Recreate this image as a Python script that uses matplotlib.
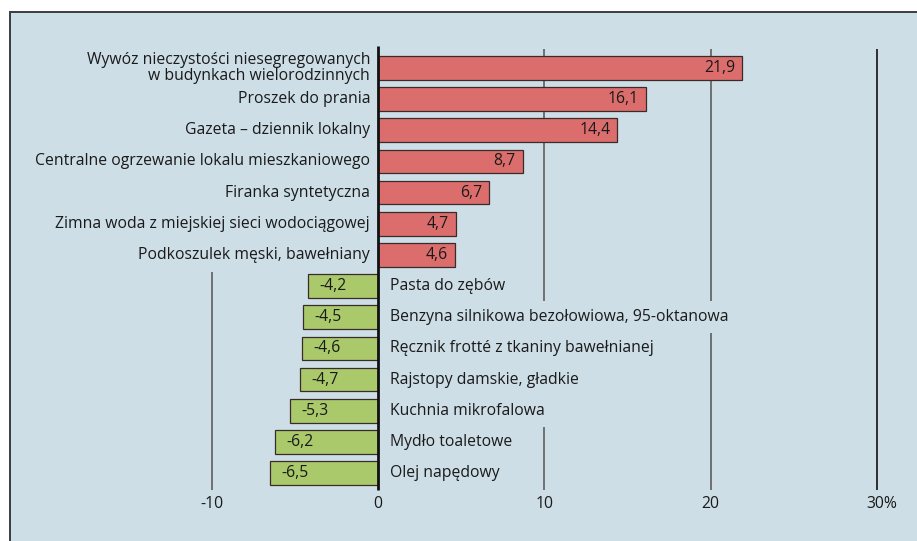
import numpy as np
import matplotlib.pyplot as plt
from matplotlib.patches import Rectangle

plt.rcParams['font.family'] = ['Open Sans', 'DejaVu Sans']

categories = [
    "Wywóz nieczystości niesegregowanych\nw budynkach wielorodzinnych",
    "Proszek do prania",
    "Gazeta – dziennik lokalny",
    "Centralne ogrzewanie lokalu mieszkaniowego",
    "Firanka syntetyczna",
    "Zimna woda z miejskiej sieci wodociągowej",
    "Podkoszulek męski, bawełniany",
    "Pasta do zębów",
    "Benzyna silnikowa bezołowiowa, 95-oktanowa",
    "Ręcznik frotté z tkaniny bawełnianej",
    "Rajstopy damskie, gładkie",
    "Kuchnia mikrofalowa",
    "Mydło toaletowe",
    "Olej napędowy",
]
values = [21.9, 16.1, 14.4, 8.7, 6.7, 4.7, 4.6,
          -4.2, -4.5, -4.6, -4.7, -5.3, -6.2, -6.5]
ticks = [-10, 0, 10, 20, 30]
tick_labels = ["-10", "0", "10", "20", "30%"]

BG = "#cddee6"
RED = "#dc6d6d"
GREEN = "#a9c96b"
TXT = "#1a1a1a"
FS = 11.3

fig = plt.figure(figsize=(9.17, 5.41), dpi=100)
ax = fig.add_axes([0, 0, 1, 1])
ax.set_xlim(-22.73, 32.41)
ax.set_ylim(15.18, -2.183)
ax.axis('off')

# background panel with top/left border
ax.add_patch(Rectangle((10 / 917, -0.1), 1.2, 1.1 - 12 / 541,
                       transform=ax.transAxes, facecolor=BG,
                       edgecolor="#3c3c3c", linewidth=1.4, zorder=0,
                       clip_on=False))

y = np.arange(len(categories))

# gridlines
for t in ticks:
    if t == 0:
        continue
    top = 6.55 if t < 0 else -0.61
    col = "#2e2e2e" if t == 30 else "#707070"
    ax.vlines(t, top, 13.55, color=col, linewidth=1.4, zorder=1)

colors = [RED if v > 0 else GREEN for v in values]
ax.barh(y, values, height=0.76, color=colors, edgecolor="#3a2b2b",
        linewidth=0.9, zorder=2)

# zero axis
ax.vlines(0, -0.72, 13.55, color="#111111", linewidth=2, zorder=6)

box = dict(boxstyle="square,pad=0.5", facecolor=BG, edgecolor="none")
for yi, cat, v in zip(y, categories, values):
    lab = f"{v:.1f}".replace(".", ",")
    if v > 0:
        kw = dict(ha="right", va="center", fontsize=FS, linespacing=0.92,
                  multialignment="right")
        xl = -0.48
        ax.text(v - 0.42, yi, lab, ha="right", va="center", fontsize=FS,
                color=TXT, zorder=5)
    else:
        kw = dict(ha="left", va="center", fontsize=FS)
        xl = 0.72
        ax.text(v + 0.7, yi, lab, ha="left", va="center", fontsize=FS,
                color=TXT, zorder=5)
    # background box hiding gridlines, then the label on top
    ax.text(xl, yi, cat, color=BG, bbox=box, zorder=3, **kw)
    ax.text(xl, yi, cat, color=TXT, zorder=4, **kw)

for t, tl in zip(ticks, tick_labels):
    xt = t + 0.3 if tl.endswith("%") else t
    ax.text(xt, 14.0, tl, ha="center", va="center", fontsize=FS, color=TXT)

fig.savefig("out.png", dpi=100, facecolor="white")
